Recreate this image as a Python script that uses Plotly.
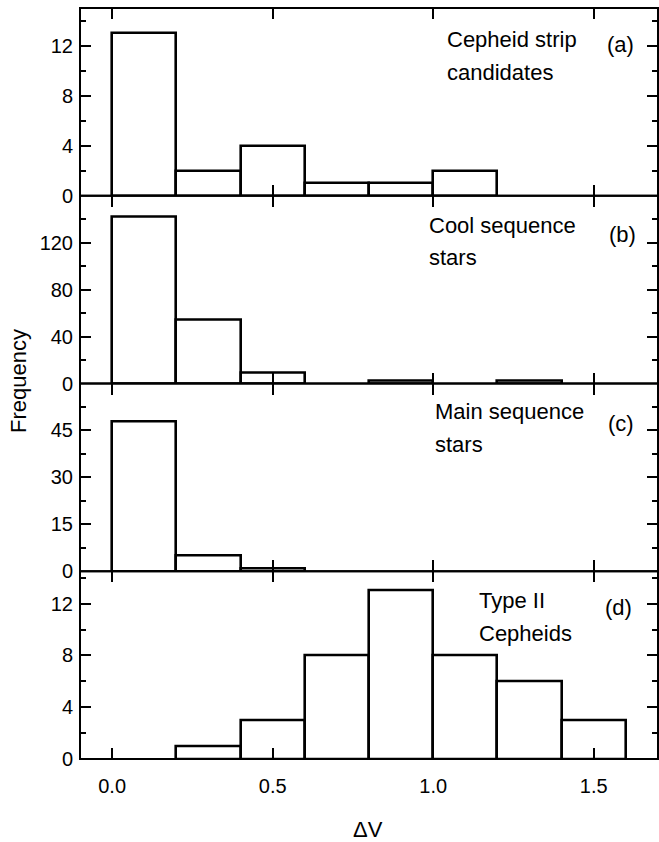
import plotly.graph_objects as go
from plotly.subplots import make_subplots

# Histogram bins of Delta V (bin width 0.2 mag)
bin_left = [0.0, 0.2, 0.4, 0.6, 0.8, 1.0, 1.2, 1.4]
bin_width = 0.2

counts_cepheid_strip = [13, 2, 4, 1, 1, 2, 0, 0]
counts_cool_sequence = [142, 54, 9, 0, 2, 0, 2, 0]
counts_main_sequence = [48, 5, 1, 0, 0, 0, 0, 0]
counts_type2_cepheids = [0, 1, 3, 8, 13, 8, 6, 3]

panels = [
    (counts_cepheid_strip, ["Cepheid strip", "candidates"], "(a)"),
    (counts_cool_sequence, ["Cool sequence", "stars"], "(b)"),
    (counts_main_sequence, ["Main sequence", "stars"], "(c)"),
    (counts_type2_cepheids, ["Type II", "Cepheids"], "(d)"),
]

y_ranges = [[0, 15], [0, 160], [0, 60], [0, 14.5]]
y_ticks = [[0, 4, 8, 12], [0, 40, 80, 120], [0, 15, 30, 45], [0, 4, 8, 12]]
y_minor = [2, 20, 7.5, 2]

x_ticks = [0.0, 0.5, 1.0, 1.5]
x_ticktext = ["0.0", "0.5", "1.0", "1.5"]

W, H = 659, 842
ML, MR, MT, MB = 80, 1, 8, 83

FONT = "Liberation Sans, Arial, Helvetica, sans-serif"

fig = make_subplots(rows=4, cols=1, shared_xaxes=True, vertical_spacing=0)

for i, (counts, _, _) in enumerate(panels):
    xs = [b + bin_width / 2 for b, c in zip(bin_left, counts) if c > 0]
    ys = [c for c in counts if c > 0]
    fig.add_trace(
        go.Bar(
            x=xs, y=ys, width=bin_width,
            marker=dict(color="white", line=dict(color="black", width=2.6)),
            showlegend=False, cliponaxis=False,
        ),
        row=i + 1, col=1,
    )

axis_common = dict(
    showline=False, mirror="ticks",
    ticks="inside", tickcolor="black", tickwidth=2,
    showgrid=False, zeroline=False,
    tickfont=dict(family=FONT, size=20, color="black"),
)

for i in range(4):
    fig.update_xaxes(
        range=[-0.1, 1.7], tickvals=x_ticks, ticktext=x_ticktext,
        ticklen=11, showticklabels=(i == 3), ticklabelstandoff=13,
        row=i + 1, col=1, **axis_common,
    )
    fig.update_yaxes(
        range=y_ranges[i], tickvals=y_ticks[i], ticklen=11,
        minor=dict(dtick=y_minor[i], ticks="inside", ticklen=6,
                   tickcolor="black", tickwidth=2, showgrid=False),
        ticklabelstandoff=6,
        row=i + 1, col=1, **axis_common,
    )

# One frame per panel; shared edges between stacked panels coincide
for i in range(4):
    xr = "x domain" if i == 0 else f"x{i + 1} domain"
    yr = "y domain" if i == 0 else f"y{i + 1} domain"
    fig.add_shape(type="rect", xref=xr, yref=yr, x0=0, x1=1, y0=0, y1=1,
                  line=dict(color="black", width=2), fillcolor="rgba(0,0,0,0)",
                  layer="above")

plot_w = W - ML - MR
plot_h = H - MT - MB


def px_to_paper(px, py):
    return (px - ML) / plot_w, (H - MB - py) / plot_h


label_font = dict(family=FONT, size=22, color="black")

# Panel captions: (left x, first line centre y, second line centre y), tag (x, y)
caption_pos = [
    ((445, 40, 72), (605, 45)),
    ((427, 225, 257), (607, 235)),
    ((433, 411, 444), (606, 423)),
    ((477, 600, 633), (603, 607)),
]

for (counts, lines, tag), ((lx, y1, y2), (tx, ty)) in zip(panels, caption_pos):
    for text, py in zip(lines, (y1, y2)):
        ax, ay = px_to_paper(lx, py)
        fig.add_annotation(text=text, x=ax, y=ay, xref="paper", yref="paper",
                           xanchor="left", yanchor="middle", showarrow=False,
                           font=label_font)
    ax, ay = px_to_paper(tx, ty)
    fig.add_annotation(text=tag, x=ax, y=ay, xref="paper", yref="paper",
                       xanchor="left", yanchor="middle", showarrow=False,
                       font=label_font)

# Axis titles
ax, ay = px_to_paper(18, 381)
fig.add_annotation(text="Frequency", x=ax, y=ay, xref="paper", yref="paper",
                   xanchor="center", yanchor="middle", textangle=-90,
                   showarrow=False, font=label_font)
ax, ay = px_to_paper(368, 830)
fig.add_annotation(text="ΔV", x=ax, y=ay, xref="paper", yref="paper",
                   xanchor="center", yanchor="middle", showarrow=False,
                   font=label_font)

fig.update_layout(
    width=W, height=H,
    margin=dict(l=ML, r=MR, t=MT, b=MB, pad=0),
    paper_bgcolor="white", plot_bgcolor="white",
    bargap=0, font=dict(family=FONT, color="black"),
)

fig.write_html("out.html", config={"displayModeBar": False})
